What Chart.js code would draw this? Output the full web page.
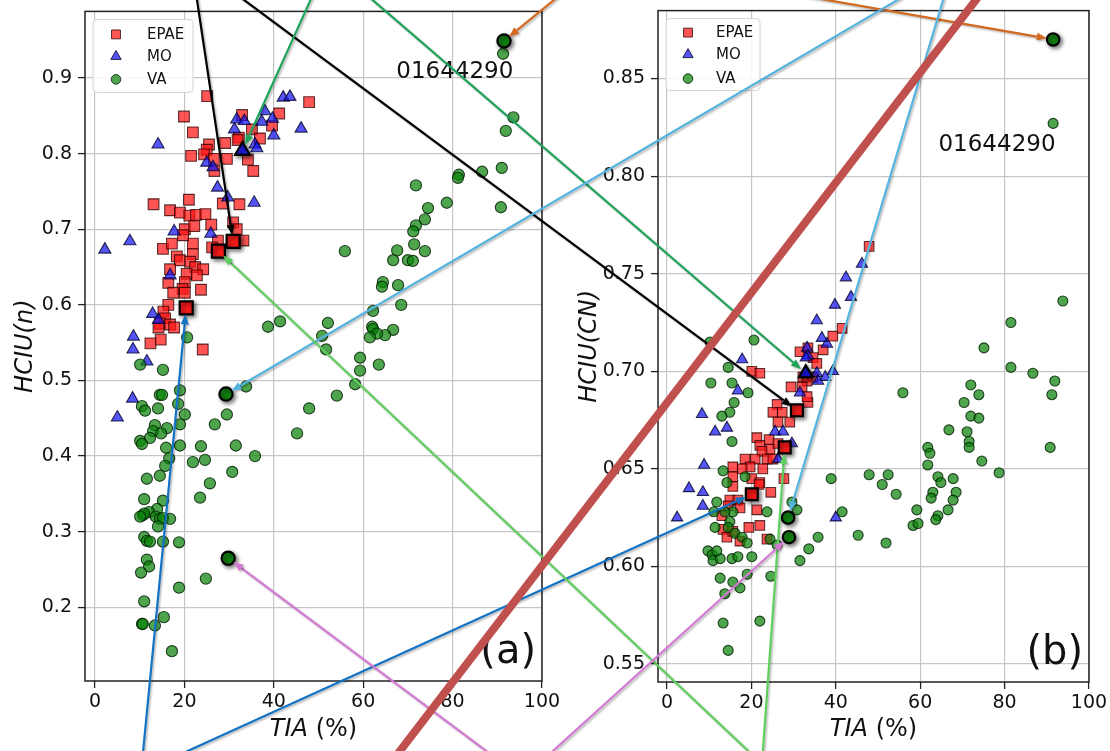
<!DOCTYPE html>
<html>
<head>
<meta charset="utf-8">
<script src="https://cdn.jsdelivr.net/npm/chart.js@4.4.1/dist/chart.umd.min.js"></script>
<style>
  html, body { margin: 0; padding: 0; background: #fff; }
  #fig { position: relative; width: 1110px; height: 751px; overflow: hidden; background: #fff; }
  #fig canvas { position: absolute; top: 0; }
</style>
</head>
<body>
<div id="fig">
  <canvas id="panelA" width="560" height="751" style="left:0"></canvas>
  <canvas id="panelB" width="550" height="751" style="left:560px"></canvas>
  <canvas id="links" width="1110" height="751" style="left:0;pointer-events:none"></canvas>
</div>
<script>
// ---------- tick labels ----------
const TIA_TICKS = [0, 20, 40, 60, 80, 100];
const HCIU_N_TICKS = [0.2, 0.3, 0.4, 0.5, 0.6, 0.7, 0.8, 0.9];
const HCIU_CN_TICKS = [0.55, 0.60, 0.65, 0.70, 0.75, 0.80, 0.85];
const GROUPS = ['EPAE', 'MO', 'VA'];
const STATION_ID = '01644290';

// ---------- panel (a): TIA (%) vs HCIU(n) ----------
const A_EPAE = [
  [25.1,0.876],[19.9,0.849],[21.9,0.828],[32.9,0.851],[41.2,0.853],[39.6,0.837],[32.2,0.821],[35.1,0.832],
  [36.9,0.820],[25.5,0.812],[25.0,0.805],[21.5,0.797],[24.4,0.799],[29.1,0.814],[29.5,0.793],[26.6,0.793],
  [34.2,0.792],[35.4,0.777],[26.7,0.777],[31.9,0.818],[47.9,0.868],[21.0,0.739],[13.1,0.733],[28.6,0.734],
  [32.3,0.733],[16.8,0.725],[19.0,0.722],[21.1,0.718],[22.6,0.719],[24.7,0.720],[20.1,0.700],[22.2,0.704],
  [26.0,0.706],[30.9,0.709],[31.7,0.700],[33.2,0.685],[27.5,0.685],[15.2,0.674],[17.2,0.681],[21.9,0.681],
  [26.2,0.676],[19.7,0.692],[21.9,0.667],[18.3,0.664],[19.0,0.659],[16.8,0.647],[21.3,0.657],[22.4,0.650],
  [24.2,0.647],[20.5,0.641],[22.8,0.639],[16.4,0.629],[20.1,0.630],[19.6,0.621],[17.5,0.616],[20.1,0.616],
  [23.7,0.620],[16.4,0.600],[15.3,0.591],[15.7,0.582],[14.5,0.575],[16.8,0.574],[17.7,0.570],[14.2,0.570],
  [14.7,0.554],[12.4,0.549],[24.1,0.541]
];
const A_MO = [
  [14.1,0.812],[25.0,0.788],[26.4,0.782],[27.4,0.755],[29.7,0.742],[35.6,0.735],[25.9,0.694],[17.7,0.697],
  [7.8,0.684],[2.2,0.673],[31.2,0.832],[31.7,0.845],[33.4,0.843],[35.8,0.812],[36.2,0.807],[38.0,0.856],
  [37.3,0.842],[39.7,0.846],[40.0,0.824],[42.1,0.874],[43.6,0.875],[46.1,0.833],[16.8,0.639],[12.9,0.588],
  [14.2,0.580],[8.6,0.558],[8.5,0.541],[11.6,0.525],[8.4,0.476],[5.0,0.451]
];
const A_VA = [
  [91.3,0.932],[93.6,0.848],[91.9,0.830],[81.4,0.772],[81.2,0.768],[86.6,0.776],[91.0,0.781],[90.8,0.729],
  [71.8,0.758],[74.5,0.728],[78.7,0.735],[73.8,0.713],[71.8,0.705],[71.2,0.697],[71.4,0.680],[67.6,0.672],
  [73.8,0.671],[55.9,0.671],[66.7,0.659],[70.0,0.659],[71.1,0.658],[64.4,0.630],[64.2,0.624],[67.8,0.626],
  [68.5,0.600],[62.2,0.592],[62.0,0.571],[62.2,0.568],[66.7,0.567],[64.9,0.560],[63.1,0.562],[61.5,0.557],
  [52.1,0.576],[50.8,0.559],[51.7,0.541],[41.4,0.578],[38.7,0.571],[59.3,0.530],[59.3,0.513],[63.5,0.521],
  [58.2,0.495],[54.1,0.480],[47.9,0.463],[45.2,0.430],[33.8,0.492],[29.5,0.455],[26.8,0.442],[31.5,0.414],
  [23.7,0.413],[35.8,0.400],[20.6,0.557],[15.2,0.514],[10.1,0.521],[19.0,0.487],[18.6,0.469],[20.1,0.455],
  [14.5,0.481],[15.0,0.481],[14.1,0.463],[10.5,0.466],[11.2,0.460],[16.1,0.437],[13.4,0.441],[13.0,0.433],
  [12.3,0.424],[14.8,0.430],[10.1,0.420],[10.5,0.416],[19.0,0.442],[19.0,0.414],[15.9,0.411],[21.9,0.392],
  [24.6,0.395],[16.6,0.397],[11.6,0.370],[14.5,0.374],[15.7,0.387],[30.7,0.379],[25.7,0.364],[11.0,0.343],
  [15.2,0.341],[23.5,0.345],[13.9,0.330],[12.1,0.326],[10.7,0.322],[11.0,0.324],[10.1,0.320],[13.6,0.320],
  [14.5,0.317],[15.2,0.318],[16.8,0.317],[14.1,0.307],[11.0,0.293],[11.6,0.288],[12.3,0.287],[15.2,0.287],
  [18.8,0.286],[11.6,0.263],[12.1,0.254],[10.3,0.246],[24.8,0.238],[18.8,0.226],[11.0,0.208],[10.5,0.178],
  [10.7,0.178],[13.4,0.176],[15.4,0.187],[17.2,0.142]
];
// highlighted stations in panel (a)
const A_KEY_EPAE = [[30.9,0.684],[27.6,0.671],[20.4,0.596]];
const A_KEY_MO = [[33.0,0.804]];
const A_KEY_VA = [[91.5,0.949],[29.3,0.482],[29.8,0.265]];

// ---------- panel (b): TIA (%) vs HCIU(CN) ----------
const B_EPAE = [
  [47.9,0.764],[41.5,0.722],[39.3,0.718],[37.0,0.711],[31.5,0.710],[33.4,0.712],[34.6,0.707],[35.5,0.704],
  [20.1,0.700],[22.0,0.699],[32.2,0.697],[34.6,0.697],[33.2,0.695],[29.4,0.692],[32.0,0.692],[33.4,0.684],
  [33.2,0.687],[26.1,0.683],[25.1,0.679],[27.3,0.679],[26.3,0.674],[29.1,0.674],[21.3,0.666],[24.2,0.665],
  [22.0,0.662],[24.4,0.660],[22.5,0.659],[20.9,0.655],[18.5,0.655],[19.7,0.651],[23.7,0.655],[22.7,0.650],
  [17.8,0.650],[15.6,0.651],[15.6,0.646],[20.1,0.645],[22.0,0.643],[26.3,0.663],[25.1,0.655],[27.7,0.645],
  [14.9,0.634],[16.8,0.634],[14.5,0.631],[17.3,0.630],[21.3,0.629],[22.0,0.621],[19.4,0.620],[13.0,0.626],
  [13.3,0.619],[14.2,0.615],[17.3,0.613],[15.6,0.618],[23.7,0.614],[24.6,0.638],[21.8,0.642],[15.6,0.641]
];
const B_MO = [
  [46.2,0.755],[42.4,0.748],[43.6,0.738],[39.8,0.734],[37.9,0.714],[36.7,0.717],[39.3,0.700],[37.5,0.697],
  [35.5,0.726],[33.2,0.712],[33.4,0.708],[32.9,0.707],[35.5,0.699],[35.8,0.695],[31.5,0.689],[17.8,0.706],
  [16.8,0.690],[8.3,0.678],[11.4,0.669],[14.2,0.671],[8.8,0.652],[25.6,0.669],[27.5,0.669],[29.6,0.663],
  [26.3,0.655],[5.2,0.640],[8.5,0.638],[8.5,0.631],[2.4,0.625],[40.0,0.625]
];
const B_VA = [
  [91.5,0.827],[55.9,0.689],[75.1,0.712],[81.5,0.725],[93.8,0.736],[81.5,0.702],[86.7,0.699],[91.9,0.695],
  [91.2,0.688],[72.0,0.693],[73.9,0.688],[70.4,0.684],[72.0,0.677],[73.9,0.676],[66.8,0.670],[71.1,0.669],
  [71.6,0.664],[71.6,0.661],[90.8,0.661],[74.6,0.654],[61.8,0.661],[62.3,0.658],[61.8,0.652],[78.7,0.648],
  [64.2,0.646],[64.9,0.643],[67.8,0.645],[47.9,0.647],[52.4,0.647],[51.0,0.642],[38.9,0.645],[54.3,0.637],
  [63.0,0.638],[62.6,0.635],[68.5,0.638],[67.8,0.634],[66.6,0.629],[59.2,0.629],[58.3,0.621],[59.5,0.622],
  [64.2,0.626],[63.7,0.624],[41.5,0.628],[45.3,0.616],[51.9,0.612],[11.8,0.633],[15.6,0.628],[13.7,0.628],
  [11.1,0.628],[11.4,0.620],[14.9,0.623],[14.5,0.620],[16.1,0.617],[17.8,0.615],[19.0,0.612],[23.7,0.628],
  [24.4,0.614],[26.1,0.611],[29.6,0.633],[30.8,0.629],[9.7,0.608],[10.7,0.606],[10.9,0.603],[12.6,0.604],
  [11.8,0.608],[15.4,0.604],[16.8,0.605],[20.1,0.605],[19.0,0.596],[15.6,0.592],[17.3,0.589],[12.6,0.594],
  [13.7,0.586],[13.3,0.571],[14.5,0.557],[22.0,0.572],[24.6,0.595],[31.5,0.603],[33.6,0.609],[35.8,0.615],
  [20.6,0.716],[10.2,0.715],[14.5,0.702],[10.4,0.694],[15.4,0.694],[19.2,0.689],[15.9,0.684],[14.9,0.679],
  [13.0,0.677],[15.4,0.664],[13.3,0.649],[14.2,0.643],[18.5,0.646]
];
// highlighted stations in panel (b)
const B_KEY_EPAE = [[30.8,0.680],[27.9,0.661],[20.1,0.637]];
const B_KEY_MO = [[32.9,0.699]];
const B_KEY_VA = [[91.5,0.870],[28.7,0.625],[28.9,0.615]];

// station-label anchors for the leader arrows, in panel (a) units (outside the frame)
const LINK_ORIGINS = {
  black:  [21.5, 1.055],
  green:  [52.1, 1.054],
  orange: [113.4, 1.055],
  sky:    [191.9, 1.046],
  blue:   [10.3, -0.018],
  lime:   [149.2, -0.007],
  orchid: [95.7, -0.026]
};
// divider stroke ends, in panel (a) units
const DIVIDER = [[63.8, -0.024], [202.5, 1.045]];

// ---------- styles ----------
const STYLE = {
  EPAE: { pointStyle: 'rect', fill: 'rgba(255,20,20,0.72)', edge: 'rgba(40,0,0,0.75)' },
  MO:   { pointStyle: 'triangle', fill: 'rgba(20,20,240,0.72)', edge: 'rgba(0,0,40,0.8)' },
  VA:   { pointStyle: 'circle', fill: 'rgba(10,130,10,0.72)', edge: 'rgba(0,30,0,0.8)' }
};
const LINK_COLORS = {
  black: '#000000', green: '#1ea35a', orange: '#d2691e', sky: '#55b3df',
  blue: '#1273c4', lime: '#5fcf5f', orchid: '#d47ad4'
};

const toXY = arr => arr.map(([x, y]) => ({ x, y }));

function groupDatasets(sets, radii) {
  // VA drawn on top of MO on top of EPAE; highlighted stations above all
  const ds = [];
  ['EPAE', 'MO', 'VA'].forEach(g => {
    ds.push({
      label: g + ' key', keyStation: true, data: toXY(sets.key[g]),
      pointStyle: STYLE[g].pointStyle, pointRadius: radii.key[g],
      backgroundColor: STYLE[g].fill.replace('0.72', '0.95'), borderColor: '#000', borderWidth: 2.2,
      order: 0
    });
  });
  ['VA', 'MO', 'EPAE'].forEach((g, i) => {
    ds.push({
      label: g, data: toXY(sets.all[g]),
      pointStyle: STYLE[g].pointStyle, pointRadius: radii.base[g],
      backgroundColor: STYLE[g].fill, borderColor: STYLE[g].edge, borderWidth: 1.1,
      order: 1 + i
    });
  });
  return ds;
}

function axis(min, max, ticks, fmt, fit, isX) {
  return {
    type: 'linear', min, max,
    afterBuildTicks: s => { s.ticks = ticks.map(v => ({ value: v })); },
    afterFit: s => {
      // the frame is placed by the layout padding alone
      if (isX) { s.height = fit; s.paddingLeft = 0; s.paddingRight = 0; }
      else { s.width = fit; s.paddingTop = 0; s.paddingBottom = 0; }
    },
    grid: { color: '#c6c6c6', lineWidth: 1.2, tickColor: '#222', tickLength: 7, tickWidth: 1.3 },
    border: { display: false },
    ticks: {
      font: { family: 'DejaVu Sans', size: 19 }, color: '#111', padding: isX ? 3 : 6,
      autoSkip: false, maxRotation: 0, callback: v => fmt(v)
    }
  };
}

// frame, axis titles, legend box, station label and panel tag
const panelDecor = {
  id: 'panelDecor',
  afterDatasetsDraw(chart, args, o) {
    const { ctx, chartArea: ca } = chart;
    const sx = chart.scales.x, sy = chart.scales.y;
    ctx.save();
    ctx.strokeStyle = '#222'; ctx.lineWidth = 1.5;
    ctx.strokeRect(ca.left, ca.top, ca.right - ca.left, ca.bottom - ca.top);

    // x title: italic TIA + upright (%)
    const f1 = 'italic 24px "DejaVu Sans"', f2 = '24px "DejaVu Sans"';
    ctx.fillStyle = '#111'; ctx.textBaseline = 'alphabetic'; ctx.textAlign = 'left';
    ctx.font = f1; const w1 = ctx.measureText('TIA').width;
    ctx.font = f2; const w2 = ctx.measureText(' (%)').width;
    const cx = (ca.left + ca.right) / 2, x0 = cx - (w1 + w2) / 2;
    ctx.font = f1; ctx.fillText('TIA', x0, o.xTitleBase);
    ctx.font = f2; ctx.fillText(' (%)', x0 + w1, o.xTitleBase);

    // y title
    ctx.save();
    ctx.translate(o.yTitleBase, (ca.top + ca.bottom) / 2);
    ctx.rotate(-Math.PI / 2);
    ctx.font = f1; ctx.textAlign = 'center';
    ctx.fillText(o.yTitle, 0, 0);
    ctx.restore();

    // station label
    ctx.font = '23px "DejaVu Sans"'; ctx.textAlign = 'center'; ctx.textBaseline = 'middle';
    ctx.fillText(STATION_ID, sx.getPixelForValue(o.station[0]), sy.getPixelForValue(o.station[1]));

    // panel tag
    ctx.font = '40px "DejaVu Sans"'; ctx.textAlign = 'right'; ctx.textBaseline = 'alphabetic';
    ctx.fillText(o.tag, ca.right - 6, ca.bottom - 18);

    // legend
    const L = o.legend, bx = ca.left + 8, by = ca.top + 8;
    ctx.beginPath();
    ctx.roundRect(bx, by, L.w, L.h, 4);
    ctx.fillStyle = 'rgba(255,255,255,0.85)'; ctx.fill();
    ctx.strokeStyle = '#d4d4d4'; ctx.lineWidth = 1; ctx.stroke();
    const legendR = { EPAE: 6.3, MO: 6, VA: 4.8 };
    GROUPS.forEach((g, i) => {
      const yy = by + L.rows[i];
      ctx.fillStyle = STYLE[g].fill; ctx.strokeStyle = STYLE[g].edge; ctx.lineWidth = 1;
      Chart.helpers.drawPoint(ctx, { pointStyle: STYLE[g].pointStyle, radius: legendR[g], rotation: 0, borderWidth: 1 }, bx + L.mx, yy);
      ctx.fillStyle = '#111'; ctx.font = '15px "DejaVu Sans"'; ctx.textAlign = 'left'; ctx.textBaseline = 'middle';
      ctx.fillText(g, bx + L.tx, yy + 1);
    });
    ctx.restore();
  }
};

// drop shadow under highlighted stations
const keyShadow = {
  id: 'keyShadow',
  beforeDatasetDraw(chart, args) {
    if (chart.data.datasets[args.index].keyStation) {
      const c = chart.ctx; c.save();
      c.shadowColor = 'rgba(0,0,0,0.55)'; c.shadowBlur = 4; c.shadowOffsetX = 2; c.shadowOffsetY = 2;
    }
  },
  afterDatasetDraw(chart, args) {
    if (chart.data.datasets[args.index].keyStation) chart.ctx.restore();
  }
};

function makePanel(id, cfg) {
  return new Chart(document.getElementById(id), {
    type: 'scatter',
    data: { datasets: groupDatasets(cfg.sets, cfg.radii) },
    options: {
      responsive: false, animation: false, events: [],
      layout: { padding: cfg.pad },
      scales: {
        x: axis(cfg.xRange[0], cfg.xRange[1], TIA_TICKS, v => String(v), cfg.xFit, true),
        y: axis(cfg.yRange[0], cfg.yRange[1], cfg.yTicks, cfg.yFmt, cfg.yFit, false)
      },
      plugins: {
        legend: { display: false }, tooltip: { enabled: false },
        panelDecor: cfg.decor
      }
    },
    plugins: [keyShadow, panelDecor]
  });
}

const chartA = makePanel('panelA', {
  sets: { all: { EPAE: A_EPAE, MO: A_MO, VA: A_VA }, key: { EPAE: A_KEY_EPAE, MO: A_KEY_MO, VA: A_KEY_VA } },
  radii: { base: { EPAE: 7.6, MO: 7, VA: 5.6 }, key: { EPAE: 9.2, MO: 8.5, VA: 6.6 } },
  pad: { left: 0, top: 8, right: 18, bottom: 0 },
  xRange: [-2.24, 100], yRange: [0.1026, 0.988], xFit: 70, yFit: 85,
  yTicks: HCIU_N_TICKS, yFmt: v => v.toFixed(1),
  decor: { xTitleBase: 736, yTitleBase: 32, yTitle: 'HCIU(n)', tag: '(a)', station: [80.5, 0.908],
           legend: { w: 100, h: 73, mx: 23, tx: 54, rows: [15, 37, 60] } }
});

const chartB = makePanel('panelB', {
  sets: { all: { EPAE: B_EPAE, MO: B_MO, VA: B_VA }, key: { EPAE: B_KEY_EPAE, MO: B_KEY_MO, VA: B_KEY_VA } },
  radii: { base: { EPAE: 6.8, MO: 6.5, VA: 5 }, key: { EPAE: 8.4, MO: 8, VA: 6.2 } },
  pad: { left: 0, top: 9, right: 21, bottom: 0 },
  xRange: [-2.13, 100], yRange: [0.5408, 0.8848], xFit: 69, yFit: 98,
  yTicks: HCIU_CN_TICKS, yFmt: v => v.toFixed(2),
  decor: { xTitleBase: 736, yTitleBase: 36, yTitle: 'HCIU(CN)', tag: '(b)', station: [78.2, 0.8157],
           legend: { w: 94, h: 72, mx: 22, tx: 50, rows: [14, 36, 60] } }
});

// ---------- leader arrows and divider across both panels ----------
const PANEL_OFFSET = { a: 0, b: 560 };
const PANELS = { a: chartA, b: chartB };
function toPage(p, pt) {
  const c = PANELS[p];
  return [PANEL_OFFSET[p] + c.scales.x.getPixelForValue(pt[0]), c.scales.y.getPixelForValue(pt[1])];
}

const LINKS = [
  { color: 'black',  ends: [['a', A_KEY_EPAE[0]], ['b', B_KEY_EPAE[0]]] },
  { color: 'green',  ends: [['a', A_KEY_MO[0]],   ['b', B_KEY_MO[0]]] },
  { color: 'orange', ends: [['a', A_KEY_VA[0]],   ['b', B_KEY_VA[0]]] },
  { color: 'sky',    ends: [['a', A_KEY_VA[1]],   ['b', B_KEY_VA[1]]] },
  { color: 'blue',   ends: [['a', A_KEY_EPAE[2]], ['b', B_KEY_EPAE[2]]] },
  { color: 'lime',   ends: [['a', A_KEY_EPAE[1]], ['b', B_KEY_EPAE[1]]] },
  { color: 'orchid', ends: [['a', A_KEY_VA[2]],   ['b', B_KEY_VA[2]]] }
];

function drawLinks() {
  const ctx = document.getElementById('links').getContext('2d');
  ctx.clearRect(0, 0, 1110, 751);
  LINKS.forEach(link => {
    const col = LINK_COLORS[link.color];
    const [ox, oy] = toPage('a', LINK_ORIGINS[link.color]);
    link.ends.forEach(([p, pt]) => {
      const [tx0, ty0] = toPage(p, pt);
      const dx = tx0 - ox, dy = ty0 - oy, len = Math.hypot(dx, dy);
      const ux = dx / len, uy = dy / len;
      const tipX = tx0 - ux * 6.5, tipY = ty0 - uy * 6.5;
      const headL = 10, headW = 4;
      const baseX = tipX - ux * headL, baseY = tipY - uy * headL;
      ctx.save();
      ctx.shadowColor = 'rgba(0,0,0,0.28)'; ctx.shadowBlur = 2; ctx.shadowOffsetX = 1.5; ctx.shadowOffsetY = 1.5;
      ctx.strokeStyle = col; ctx.fillStyle = col; ctx.lineWidth = 2.2; ctx.lineCap = 'butt';
      ctx.beginPath(); ctx.moveTo(ox, oy); ctx.lineTo(baseX, baseY); ctx.stroke();
      ctx.beginPath();
      ctx.moveTo(tipX, tipY);
      ctx.lineTo(baseX - uy * headW, baseY + ux * headW);
      ctx.lineTo(baseX + uy * headW, baseY - ux * headW);
      ctx.closePath(); ctx.fill();
      ctx.restore();
    });
  });
  const [x1, y1] = toPage('a', DIVIDER[0]);
  const [x2, y2] = toPage('a', DIVIDER[1]);
  ctx.save();
  ctx.strokeStyle = '#c0504d'; ctx.lineWidth = 8; ctx.lineCap = 'butt';
  ctx.beginPath(); ctx.moveTo(x1, y1); ctx.lineTo(x2, y2); ctx.stroke();
  ctx.restore();
}
drawLinks();
</script>
</body>
</html>
